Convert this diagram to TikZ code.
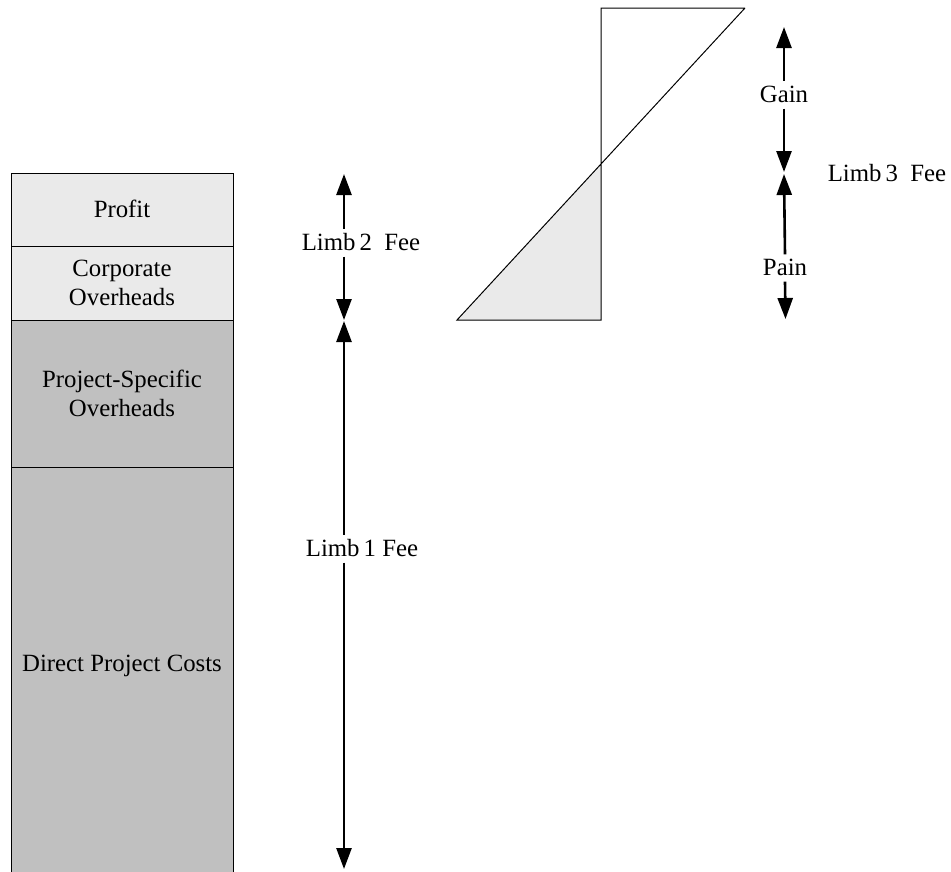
\documentclass[tikz,border=0pt]{standalone}
\usepackage{fontspec}
\setmainfont{Liberation Serif}
\usetikzlibrary{arrows.meta}

\definecolor{paleGrey}{HTML}{EAEAEA}
\definecolor{midGrey}{HTML}{C0C0C0}

\tikzset{
  layer/.style={draw=black, line width=1.3pt, minimum width=222pt, inner sep=0pt,
    anchor=north west},
  upper/.style={layer, fill=paleGrey},
  lower/.style={layer, fill=midGrey},
  boxtext/.style={align=center, inner sep=0pt, font=\fontsize{24.8}{29}\selectfont},
  shaft/.style={line width=2.6pt},
  headup/.style={shaft, {Triangle[length=21pt,width=15pt]}-},
  headdown/.style={shaft, -{Triangle[length=21pt,width=15pt]}},
  feelabel/.style={inner xsep=2pt, inner ysep=2pt, text height=19pt, text depth=4pt,
    font=\fontsize{24.8}{29}\selectfont},
  outline/.style={line width=1pt}
}

\begin{document}
\begin{tikzpicture}[x=1pt,y=-1pt]
  \useasboundingbox (0,0) rectangle (951,871);
  \fill[white] (0,0) rectangle (951,871);

  % cost build-up column
  \node[upper, minimum height=73pt]  (profit) at (11,173) {};
  \node[upper, minimum height=74pt]  (corp)   at (11,246) {};
  \node[lower, minimum height=147pt] (pso)    at (11,320) {};
  \node[lower, minimum height=420pt] (direct) at (11,467) {};
  \node[boxtext] (profittxt) at (122,209) {Profit};
  \node[boxtext] (corptxt)   at (122,283) {Corporate\\Overheads};
  \node[boxtext] (psotxt)    at (122,393) {Project-Specific\\Overheads};
  \node[boxtext] (directtxt) at (122,666) {Direct Project Costs};

  % fee limbs: each double arrow is split round its label
  \node[feelabel] (limbtwo) at (361,243) {Limb\,2~~Fee};
  \node[feelabel] (limbone) at (362,549) {Limb\,1 Fee};
  \coordinate (l2top) at (344,174);
  \coordinate (l2bot) at (344,320);
  \coordinate (l1top) at (344,321);
  \coordinate (l1bot) at (344,869);
  \draw[headup]   (l2top) -- (limbtwo.north -| l2top);
  \draw[headdown] (limbtwo.south -| l2top) -- (l2bot);
  \draw[headup]   (l1top) -- (limbone.north -| l1top);
  \draw[headdown] (limbone.south -| l1top) -- (l1bot);

  % gain / pain share
  \coordinate (tl) at (601,8);
  \coordinate (tr) at (745,8);
  \coordinate (bl) at (457,320);
  \coordinate (br) at (601,320);
  \coordinate (cross) at (601,164);
  \fill[paleGrey] (bl) -- (cross) -- (br) -- cycle;
  \draw[outline] (tr) -- (tl) -- (br) -- (bl) -- (tr);

  \node[feelabel] (gain) at (784,95) {Gain};
  \node[feelabel] (pain) at (785,268) {Pain};
  \node[feelabel] (limbthree) at (887,174) {Limb\,3~~Fee};
  \coordinate (gtop) at (784,27);
  \coordinate (gbot) at (784,172);
  \coordinate (ptop) at (784,174);
  \coordinate (pbot) at (785.5,319);
  \draw[headup]   (gtop) -- (gain.north);
  \draw[headdown] (gain.south) -- (gbot);
  \draw[headup]   (ptop) -- (pain.north);
  \draw[headdown] (pain.south) -- (pbot);
\end{tikzpicture}
\end{document}
